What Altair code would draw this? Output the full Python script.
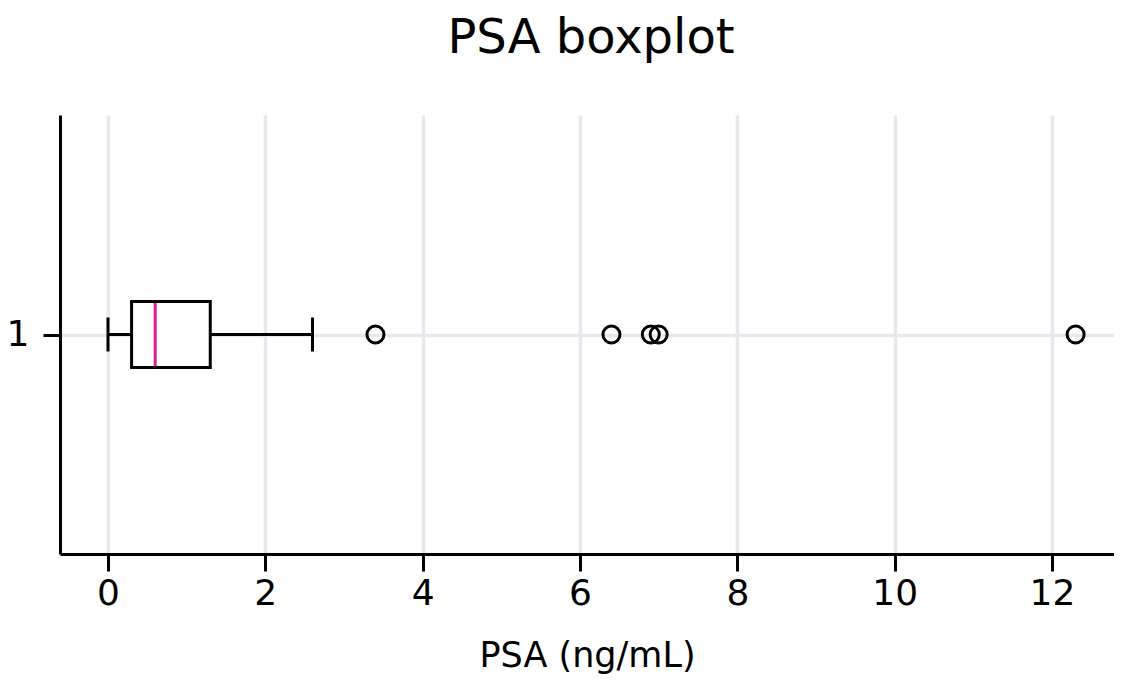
import altair as alt
import pandas as pd

# ---- data ----
group = [1]
whisker_low = [0.0]
q1 = [0.3]
median = [0.6]
q3 = [1.3]
whisker_high = [2.6]
outliers = [3.4, 6.4, 6.9, 7.0, 12.3]
x_ticks = [0, 2, 4, 6, 8, 10, 12]
y_ticks = [1]

stats = pd.DataFrame({
    "g": group, "lo": whisker_low, "q1": q1, "med": median,
    "q3": q3, "hi": whisker_high,
})
out_df = pd.DataFrame({"g": group * len(outliers), "v": outliers})

FONT = "DejaVu Sans"
LW = 3

xs = alt.Scale(domain=[-0.61, 12.788], nice=False, zero=False)
ys = alt.Scale(domain=[0.5, 1.5], nice=False, zero=False)

xaxis = alt.Axis(values=x_ticks, title="PSA (ng/mL)", grid=True, format="d")
yaxis = alt.Axis(values=y_ticks, title=None, grid=True, format="d")

base = alt.Chart(stats)

whisk_l = base.mark_rule(color="black", strokeWidth=LW).encode(
    x=alt.X("lo:Q", scale=xs, axis=xaxis),
    x2="q1:Q",
    y=alt.Y("g:Q", scale=ys, axis=yaxis),
)
whisk_r = base.mark_rule(color="black", strokeWidth=LW).encode(
    x=alt.X("q3:Q", scale=xs), x2="hi:Q", y=alt.Y("g:Q", scale=ys)
)
box = base.mark_bar(fill="white", stroke="black", strokeWidth=LW, size=66, opacity=1).encode(
    x=alt.X("q1:Q", scale=xs), x2="q3:Q", y=alt.Y("g:Q", scale=ys)
)
med = base.mark_tick(color="#e2189b", thickness=3, size=63, orient="vertical", opacity=1).encode(
    x=alt.X("med:Q", scale=xs), y=alt.Y("g:Q", scale=ys)
)
cap_l = base.mark_tick(color="black", thickness=LW, size=34, orient="vertical", opacity=1).encode(
    x=alt.X("lo:Q", scale=xs), y=alt.Y("g:Q", scale=ys)
)
cap_r = base.mark_tick(color="black", thickness=LW, size=34, orient="vertical", opacity=1).encode(
    x=alt.X("hi:Q", scale=xs), y=alt.Y("g:Q", scale=ys)
)
pts = alt.Chart(out_df).mark_point(
    shape="circle", filled=False, color="black", strokeWidth=3, size=290, opacity=1
).encode(x=alt.X("v:Q", scale=xs), y=alt.Y("g:Q", scale=ys))

chart = alt.layer(whisk_l, whisk_r, box, med, cap_l, cap_r, pts).properties(
    width=1054,
    height=439,
    autosize=alt.AutoSizeParams(type="none"),
    padding={"left": 52, "top": 107, "right": 0, "bottom": 124},
    title=alt.TitleParams("PSA boxplot", fontSize=48, font=FONT, fontWeight="normal",
                          color="black", anchor="middle", offset=52, dx=4),
).configure_view(stroke=None).configure_axis(
    labelFont=FONT, titleFont=FONT, labelFontSize=36, titleFontSize=35,
    labelColor="black", titleColor="black", titleFontWeight="normal",
    domainColor="black", domainWidth=LW, tickColor="black", tickWidth=LW,
    tickSize=17, gridColor="#e7e7ee", gridWidth=3.5,
).configure_axisX(labelPadding=5, titlePadding=27).configure_axisY(labelPadding=14)

chart.save("out.html", embed_options={"renderer": "svg", "actions": False})
